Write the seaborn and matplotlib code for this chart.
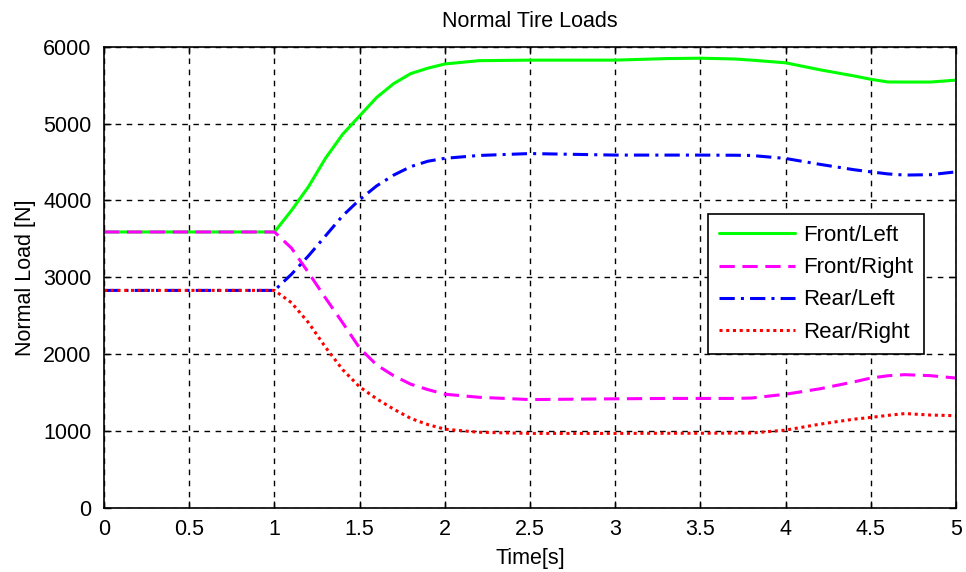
import matplotlib
matplotlib.use("Agg")
import matplotlib.pyplot as plt
import seaborn as sns
import pandas as pd

# Sample times [s]
time_s = [0.0, 1.0, 1.1, 1.2, 1.3, 1.4, 1.5, 1.6, 1.7, 1.8, 1.9, 2.0, 2.2, 2.5,
          3.0, 3.3, 3.5, 3.7, 3.8, 4.0, 4.2, 4.4, 4.5, 4.6, 4.7, 4.85, 5.0]

# Normal tire loads [N]
front_left = [3590, 3590, 3870, 4180, 4550, 4860, 5100, 5340, 5520, 5650, 5720, 5775, 5818, 5825,
              5825, 5845, 5850, 5840, 5825, 5790, 5700, 5620, 5576, 5541, 5540, 5540, 5565]
front_right = [3590, 3590, 3380, 3060, 2730, 2410, 2080, 1860, 1720, 1610, 1540, 1480, 1440, 1410,
               1420, 1425, 1425, 1425, 1430, 1480, 1550, 1640, 1690, 1720, 1734, 1721, 1690]
rear_left = [2830, 2830, 3040, 3280, 3540, 3800, 4010, 4190, 4330, 4440, 4510, 4548, 4585, 4610,
             4590, 4590, 4590, 4588, 4585, 4546, 4470, 4400, 4372, 4345, 4330, 4335, 4372]
rear_right = [2830, 2830, 2670, 2410, 2090, 1800, 1575, 1420, 1285, 1165, 1085, 1025, 985, 970,
              970, 972, 972, 974, 975, 1013, 1090, 1155, 1178, 1205, 1228, 1209, 1200]

series_names = ["Front/Left", "Front/Right", "Rear/Left", "Rear/Right"]
series_colors = ["#00FF00", "#FF00FF", "#0000FF", "#FF0000"]
series_styles = ["-", (0, (5, 2.5)), (0, (5, 2, 1, 2)), (0, (1, 1.2))]

x_ticks = [0, 0.5, 1, 1.5, 2, 2.5, 3, 3.5, 4, 4.5, 5]
x_tick_labels = ["0", "0.5", "1", "1.5", "2", "2.5", "3", "3.5", "4", "4.5", "5"]
y_ticks = [0, 1000, 2000, 3000, 4000, 5000, 6000]

frames = []
for name, vals in zip(series_names, [front_left, front_right, rear_left, rear_right]):
    frames.append(pd.DataFrame({"time": time_s, "load": vals, "tire": name}))
df = pd.concat(frames, ignore_index=True)

sns.set_style("ticks")
plt.rcParams["font.family"] = ["Liberation Sans", "DejaVu Sans"]
plt.rcParams["xtick.direction"] = "in"
plt.rcParams["ytick.direction"] = "in"
plt.rcParams["text.color"] = "black"
plt.rcParams["axes.labelcolor"] = "black"

FS = 15.5

fig = plt.figure(figsize=(9.66, 5.72), dpi=100)
ax = fig.add_axes([0.1077, 0.1119, 0.8820, 0.8065])

for name, color, ls in zip(series_names, series_colors, series_styles):
    sub = df[df["tire"] == name]
    sns.lineplot(data=sub, x="time", y="load", ax=ax, color=color,
                 linestyle=ls, linewidth=2.2, label=name)

ax.set_xlim(0, 5)
ax.set_ylim(0, 6000)
ax.set_xticks(x_ticks)
ax.set_xticklabels(x_tick_labels)
ax.set_yticks(y_ticks)
ax.tick_params(labelsize=FS, length=5, width=1, top=True, right=True,
               colors="black", labelcolor="black")
ax.tick_params(axis="x", pad=8)
ax.tick_params(axis="y", pad=9)
ax.grid(True, color="black", linestyle=(0, (4, 4)), linewidth=1)
for sp in ax.spines.values():
    sp.set_visible(True)
    sp.set_color("black")
    sp.set_linewidth(1.2)

ax.set_title("Normal Tire Loads", fontsize=FS, pad=14, color="black")
ax.set_xlabel("Time[s]", fontsize=FS, labelpad=6)
ax.set_ylabel("Normal Load [N]", fontsize=FS, labelpad=5)

leg = ax.legend(loc="upper right", bbox_to_anchor=(0.9624, 0.637), fontsize=16,
                frameon=True, fancybox=False, framealpha=1, edgecolor="black",
                handlelength=3.4, handletextpad=0.35, labelspacing=0.5,
                borderpad=0.5, borderaxespad=0)
leg.get_frame().set_linewidth(1.2)
for txt in leg.get_texts():
    txt.set_color("black")

fig.savefig("out.png", dpi=100, facecolor="white")
